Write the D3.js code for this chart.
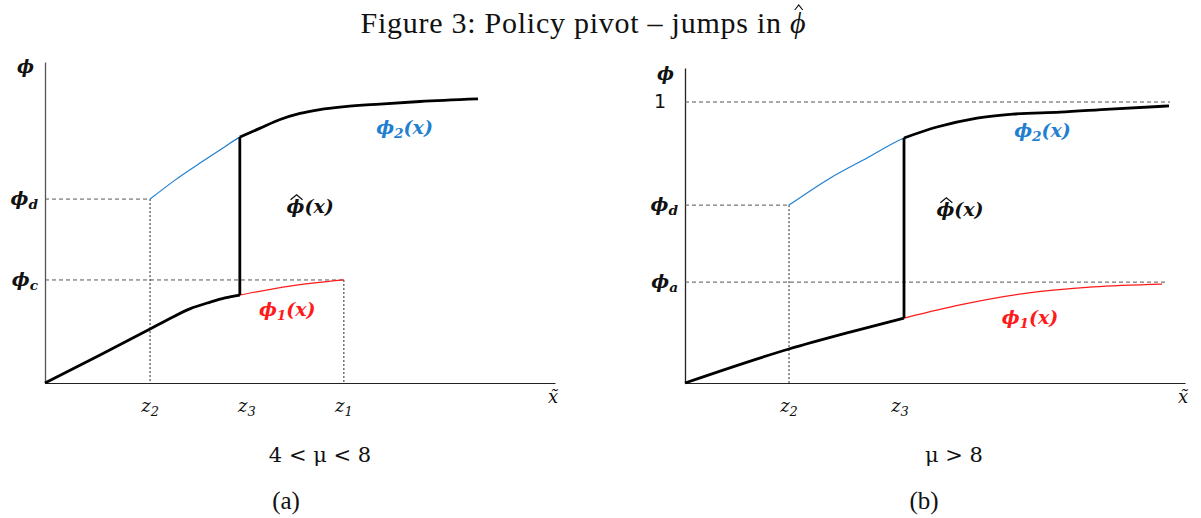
<!DOCTYPE html>
<html><head><meta charset="utf-8">
<script src="https://cdn.jsdelivr.net/npm/d3@7"></script>
<style>body{margin:0;background:#fff}svg{display:block}</style>
</head><body>
<svg id="c" width="1201" height="518"></svg>
<script>
// ---------- DATA (abstract units: x 0..10, phi 0..1) ----------
// Panel (a): 4 < mu < 8
const aPhi1X = [0, 1.08, 2.06, 2.45, 2.84, 3.24, 3.53, 3.82, 4.80, 5.86];
const aPhi1Y = [0, 0.087, 0.168, 0.201, 0.231, 0.252, 0.265, 0.274, 0.302, 0.321];
const aPhi2X = [2.06, 2.55, 3.04, 3.43, 3.82, 4.22, 4.61, 5.00, 5.39, 5.88, 6.57, 7.35, 8.49];
const aPhi2Y = [0.573, 0.632, 0.685, 0.726, 0.766, 0.794, 0.821, 0.840, 0.852, 0.861, 0.869, 0.877, 0.885];
const aMarks = {z2: 2.06, z3: 3.82, z1: 5.86, phiD: 0.573, phiC: 0.321};
// Panel (b): mu > 8
const bPhi1X = [0, 2.08, 3.30, 4.38, 5.50, 6.84, 8.16, 9.54];
const bPhi1Y = [0, 0.121, 0.181, 0.231, 0.278, 0.320, 0.342, 0.352];
const bPhi2X = [2.08, 2.90, 3.64, 4.38, 5.04, 5.84, 6.56, 7.50, 8.50, 9.68];
const bPhi2Y = [0.633, 0.729, 0.801, 0.872, 0.911, 0.943, 0.957, 0.964, 0.975, 0.986];
const bMarks = {z2: 2.08, z3: 4.38, phiD: 0.633, phiA: 0.359, one: 1.0, oneEnd: 9.7, phiAEnd: 9.66};
const titleText = "Figure 3: Policy pivot \u2013 jumps in ";
const captions = ["4 < \u03bc < 8", "\u03bc > 8"];
const subLabels = ["(a)", "(b)"];

// ---------- DRAW ----------
const svg = d3.select("#c");
const MATH = "'DejaVu Serif', serif";
const SERIF = "'Liberation Serif', 'DejaVu Serif', serif";

// title
const tt = svg.append("text").attr("x", 583).attr("y", 33).attr("text-anchor", "middle")
  .attr("font-family", SERIF).attr("font-size", 30).attr("fill", "#111")
  .attr("textLength", 445).attr("lengthAdjust", "spacing");
tt.append("tspan").text(titleText);
tt.append("tspan").attr("font-style", "italic").text("\u03d5");
{
  const n = titleText.length;
  const e = tt.node().getExtentOfChar(n);
  const cx = e.x + e.width / 2 + 1, top = e.y + 1;
  svg.append("path").attr("d", `M${cx - 4},${top + 3} L${cx},${top - 2} L${cx + 4},${top + 3}`)
    .attr("fill", "none").attr("stroke", "#111").attr("stroke-width", 1.2);
}

function label(g, x, y, parts, opt) {
  opt = opt || {};
  const sz = opt.size || 16;
  const t = g.append("text").attr("x", x).attr("y", y)
    .attr("text-anchor", opt.anchor || "start")
    .attr("font-family", opt.family || MATH).attr("font-size", sz)
    .attr("font-style", opt.upright ? "normal" : "italic").attr("font-weight", opt.weight || "bold")
    .attr("fill", opt.color || "#111");
  parts.forEach(p => {
    if (p.sub !== undefined) {
      t.append("tspan").text(p.t);
      t.append("tspan").attr("dy", 4).attr("font-size", sz * 0.72).text(p.sub);
      t.append("tspan").attr("dy", -4).text(p.after || "");
    } else {
      t.append("tspan").text(p.t);
    }
  });
  if (opt.hat) {
    const e = t.node().getExtentOfChar(0);
    const cx = e.x + e.width / 2 + 1, top = e.y + 2;
    g.append("path").attr("d", `M${cx - 6},${top + 3} L${cx},${top - 2} L${cx + 6},${top + 3}`)
      .attr("fill", "none").attr("stroke", opt.color || "#111").attr("stroke-width", 1.3);
  }
  return t;
}

function panel(cfg) {
  const g = svg.append("g");
  const x = d3.scaleLinear().domain([0, 10]).range(cfg.xr);
  const y = d3.scaleLinear().domain([0, 1]).range(cfg.yr);
  const line = d3.line().x(d => x(d[0])).y(d => y(d[1])).curve(d3.curveMonotoneX);

  // axes (no ticks)
  const gx = g.append("g").attr("transform", `translate(0,${y(0)})`)
    .call(d3.axisBottom(x).tickValues([]).tickSizeOuter(0));
  gx.select(".domain").attr("stroke", "#222").attr("stroke-width", 1.1);
  const yAx = y.copy().domain([0, cfg.yTop]).range([cfg.yr[0], y(cfg.yTop)]);
  const gy = g.append("g").attr("transform", `translate(${x(0)},0)`)
    .call(d3.axisLeft(yAx).tickValues([]).tickSizeOuter(0));
  gy.select(".domain").attr("stroke", cfg.yAxisColor).attr("stroke-width", 1.3);

  // guide lines
  cfg.hGuides.forEach(h => g.append("line").attr("x1", x(0)).attr("x2", x(h.to))
    .attr("y1", y(h.v)).attr("y2", y(h.v)).attr("stroke", "#555").attr("stroke-width", 1)
    .attr("stroke-dasharray", "4,3"));
  cfg.vGuides.forEach(v => g.append("line").attr("x1", x(v.v)).attr("x2", x(v.v))
    .attr("y1", y(v.from)).attr("y2", y(0)).attr("stroke", "#222").attr("stroke-width", 1)
    .attr("stroke-dasharray", "2,2"));

  const p1 = cfg.p1X.map((v, i) => [v, cfg.p1Y[i]]);
  const p2 = cfg.p2X.map((v, i) => [v, cfg.p2Y[i]]);
  g.append("path").attr("d", line(p1)).attr("fill", "none").attr("stroke", "#ff1a1a").attr("stroke-width", 1.2);
  g.append("path").attr("d", line(p2)).attr("fill", "none").attr("stroke", "#1f7fd0").attr("stroke-width", 1.2);
  const low = p1.filter(d => d[0] <= cfg.z3 + 1e-9);
  const high = p2.filter(d => d[0] >= cfg.z3 - 1e-9);
  g.append("path").attr("d", line(low)).attr("fill", "none").attr("stroke", "#000").attr("stroke-width", 2.8);
  g.append("path").attr("d", line(high)).attr("fill", "none").attr("stroke", "#000").attr("stroke-width", 2.8);
  g.append("line").attr("x1", x(cfg.z3)).attr("x2", x(cfg.z3))
    .attr("y1", y(low[low.length - 1][1])).attr("y2", y(high[0][1]))
    .attr("stroke", "#000").attr("stroke-width", 2.8);

  // y labels
  label(g, x(0) - 28, cfg.phiTopY, [{t: "\u03d5"}], {size: 18});
  cfg.yLabels.forEach(l => label(g, x(0) - (l.gap || 7), y(l.v) + 6, l.parts,
    {anchor: "end", size: 19, upright: l.upright, family: l.upright ? "'DejaVu Sans', sans-serif" : MATH, weight: l.upright ? "normal" : "bold"}));
  // x labels
  cfg.xLabels.forEach(l => label(g, x(l.v) + (l.dx || 0), y(0) + 29, [{t: "z", sub: l.s}], {anchor: "middle", size: 18, weight: "normal"}));
  label(g, x(10) - 2, y(0) + 20, [{t: "x\u0303"}], {anchor: "middle", size: 18, weight: "normal"});
  // curve labels
  cfg.curveLabels.forEach(l => label(g, x(l.x), y(l.y), l.parts, {anchor: "middle", size: 19, color: l.color, hat: l.hat}));
  // captions
  g.append("text").attr("x", cfg.capX).attr("y", 462).attr("text-anchor", "middle")
    .attr("font-family", MATH).attr("font-size", 21).attr("fill", "#111")
    .text(cfg.caption);
  g.append("text").attr("x", cfg.subX).attr("y", 509).attr("text-anchor", "middle")
    .attr("font-family", SERIF).attr("font-size", 25).attr("fill", "#111").text(cfg.sub);
}

panel({
  xr: [45, 555], yr: [383, 62], yTop: 1.0, yAxisColor: "#555", phiTopY: 73,
  p1X: aPhi1X, p1Y: aPhi1Y, p2X: aPhi2X, p2Y: aPhi2Y, z3: aMarks.z3,
  hGuides: [{v: aMarks.phiD, to: aMarks.z2}, {v: aMarks.phiC, to: aMarks.z1}],
  vGuides: [{v: aMarks.z2, from: aMarks.phiD}, {v: aMarks.z1, from: aMarks.phiC}],
  yLabels: [{v: aMarks.phiD, parts: [{t: "\u03d5", sub: "d"}]}, {v: aMarks.phiC, parts: [{t: "\u03d5", sub: "c"}]}],
  xLabels: [{v: aMarks.z2, s: "2"}, {v: aMarks.z3, s: "3", dx: 7}, {v: aMarks.z1, s: "1"}],
  curveLabels: [
    {x: 7.05, y: 0.775, color: "#1f7fd0", parts: [{t: "\u03d5", sub: "2", after: "(x)"}]},
    {x: 5.2, y: 0.53, color: "#111", hat: true, parts: [{t: "\u03d5(x)"}]},
    {x: 4.75, y: 0.21, color: "#ff1a1a", parts: [{t: "\u03d5", sub: "1", after: "(x)"}]}
  ],
  capX: 320, caption: captions[0], subX: 286, sub: subLabels[0]
});

panel({
  xr: [685, 1185], yr: [383, 102], yTop: 1.121, yAxisColor: "#222", phiTopY: 80,
  p1X: bPhi1X, p1Y: bPhi1Y, p2X: bPhi2X, p2Y: bPhi2Y, z3: bMarks.z3,
  hGuides: [{v: bMarks.one, to: bMarks.oneEnd}, {v: bMarks.phiD, to: bMarks.z2}, {v: bMarks.phiA, to: bMarks.phiAEnd}],
  vGuides: [{v: bMarks.z2, from: bMarks.phiD}],
  yLabels: [{v: bMarks.one, upright: true, gap: 19, parts: [{t: "1"}]}, {v: bMarks.phiD, parts: [{t: "\u03d5", sub: "d"}]}, {v: bMarks.phiA, parts: [{t: "\u03d5", sub: "a"}]}],
  xLabels: [{v: bMarks.z2, s: "2"}, {v: bMarks.z3, s: "3", dx: -4}],
  curveLabels: [
    {x: 7.15, y: 0.875, color: "#1f7fd0", parts: [{t: "\u03d5", sub: "2", after: "(x)"}]},
    {x: 5.5, y: 0.595, color: "#111", hat: true, parts: [{t: "\u03d5(x)"}]},
    {x: 6.9, y: 0.21, color: "#ff1a1a", parts: [{t: "\u03d5", sub: "1", after: "(x)"}]}
  ],
  capX: 954, caption: captions[1], subX: 924, sub: subLabels[1]
});
</script>
</body></html>
